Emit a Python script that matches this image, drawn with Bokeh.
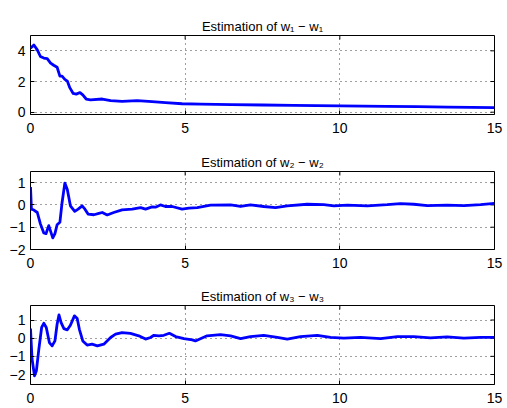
import math
from bokeh.plotting import figure
from bokeh.layouts import column
from bokeh.models import FixedTicker, Range1d, Title, LinearAxis
from bokeh.embed import file_html
from bokeh.resources import INLINE

FONT = "Liberation Sans"

# ---- data ----
t1 = [0, 0.11, 0.22, 0.32, 0.43, 0.54, 0.65, 0.75, 0.86, 0.95, 1.02, 1.11, 1.19, 1.27,
      1.38, 1.48, 1.6, 1.69, 1.8, 1.94, 2.32, 2.59, 2.96, 3.45, 3.93, 4.36, 4.9, 5.5,
      6.5, 7.5, 8.5, 10, 11.5, 12.5, 13.5, 15]
e1 = [4.17, 4.38, 4.06, 3.63, 3.53, 3.49, 3.2, 3.06, 2.93, 2.35, 2.35, 2.14, 2.03, 1.6,
      1.22, 1.18, 1.28, 1.13, 0.86, 0.81, 0.86, 0.75, 0.7, 0.75, 0.69, 0.62, 0.55, 0.53,
      0.5, 0.47, 0.44, 0.41, 0.38, 0.36, 0.33, 0.3]

t2 = [0, 0.03, 0.11, 0.22, 0.32, 0.43, 0.5, 0.59, 0.72, 0.79, 0.86, 0.95, 1.02, 1.11,
      1.19, 1.29, 1.43, 1.54, 1.67, 1.76, 1.86, 2.05, 2.21, 2.32, 2.48, 2.69, 2.96, 3.29,
      3.56, 3.72, 3.93, 4.04, 4.2, 4.36, 4.58, 4.9, 5.12, 5.39, 5.82, 6.47, 6.79, 7.11,
      7.54, 7.92, 8.3, 8.94, 9.48, 9.81, 10.24, 10.89, 11.53, 11.96, 12.39, 12.83, 13.47,
      14.01, 14.55, 15]
e2 = [0.8, -0.19, -0.23, -0.34, -0.85, -1.26, -1.29, -0.93, -1.48, -1.29, -0.89, -0.78,
      0.1, 0.98, 0.69, -0.04, -0.29, -0.19, -0.04, -0.19, -0.41, -0.44, -0.38, -0.34,
      -0.45, -0.34, -0.22, -0.19, -0.12, -0.19, -0.09, -0.1, 0.0, -0.07, -0.07, -0.19,
      -0.14, -0.12, -0.01, 0.0, -0.07, 0.0, -0.07, -0.12, -0.04, 0.03, 0.01, -0.04,
      -0.01, -0.04, 0.01, 0.06, 0.03, -0.03, -0.01, -0.03, 0.01, 0.07]

t3 = [0, 0.05, 0.13, 0.19, 0.27, 0.36, 0.43, 0.51, 0.61, 0.7, 0.79, 0.86, 0.92, 0.99,
      1.08, 1.19, 1.29, 1.42, 1.51, 1.58, 1.69, 1.83, 1.99, 2.16, 2.37, 2.59, 2.75, 2.96,
      3.23, 3.5, 3.72, 3.88, 3.99, 4.15, 4.31, 4.49, 4.69, 4.96, 5.23, 5.33, 5.71, 6.14,
      6.47, 6.79, 7.11, 7.54, 7.98, 8.3, 8.73, 9.27, 9.7, 10.13, 10.67, 11.32, 11.86,
      12.39, 12.93, 13.47, 14.01, 14.55, 15]
e3 = [0.53, -1.15, -2.07, -1.8, -0.6, 0.59, 0.82, 0.59, -0.24, -0.42, -0.15, 0.77, 1.28,
      0.86, 0.53, 0.46, 0.71, 1.23, 1.08, 0.49, -0.15, -0.38, -0.33, -0.42, -0.33, 0.04,
      0.22, 0.31, 0.26, 0.13, -0.05, 0.04, 0.16, 0.13, 0.16, 0.27, 0.09, -0.02, -0.09,
      -0.15, 0.13, 0.2, 0.13, -0.02, 0.09, 0.15, 0.04, -0.05, 0.09, 0.16, 0.04, 0.0,
      0.04, -0.02, 0.09, 0.09, 0.02, 0.07, 0.0, 0.04, 0.05]

titles = ["Estimation of w\u2081 \u2212 w\u2081",
          "Estimation of w\u2082 \u2212 w\u2082",
          "Estimation of w\u2083 \u2212 w\u2083"]
x_lims = (0, 15)
x_ticks = [0, 5, 10, 15]
y_ticks1 = [0, 2, 4]
y_ticks2 = [-2, -1, 0, 1]
y_ticks3 = [-2, -1, 0, 1]
y_lims1 = (-0.15, 5)
y_lims2 = (-2, 1.5)
y_lims3 = (-2.55, 1.8)


def make(title, t, e, ylims, yticks, frame_h, top):
    p = figure(frame_width=464, frame_height=frame_h, title=None,
               x_range=Range1d(*x_lims), y_range=Range1d(*ylims),
               output_backend="svg", toolbar_location=None,
               min_border_left=30, min_border_right=9,
               min_border_top=top, min_border_bottom=23)

    p.outline_line_color = "black"
    p.outline_line_width = 1
    p.outline_line_alpha = 1
    p.background_fill_color = "white"
    p.border_fill_color = "white"

    p.xaxis.ticker = FixedTicker(ticks=x_ticks)
    p.yaxis.ticker = FixedTicker(ticks=yticks)
    for ax in (p.xaxis[0], p.yaxis[0]):
        ax.axis_line_color = None
        ax.major_tick_in = 4
        ax.major_tick_out = 0
        ax.minor_tick_line_color = None
        ax.major_tick_line_color = "black"
        ax.major_label_text_font = FONT
        ax.major_label_text_font_size = "14px"
        ax.major_label_text_color = "black"
    p.xaxis.major_label_standoff = 8
    p.yaxis.major_label_standoff = 5

    for g, tk in ((p.xgrid[0], x_ticks), (p.ygrid[0], yticks)):
        g.grid_line_color = "black"
        g.grid_line_alpha = 0.75
        g.grid_line_dash = "1 4"
        g.grid_line_width = 1
        g.ticker = FixedTicker(ticks=tk)

    # title, then an invisible spacer axis between it and the box
    p.add_layout(Title(text=title, align="center", text_font=FONT,
                       text_font_size="13px", text_font_style="normal",
                       text_color="black", standoff=4), "above")
    spacer = LinearAxis(ticker=FixedTicker(ticks=x_ticks), axis_line_color=None,
                        major_tick_in=0, major_tick_out=12,
                        major_tick_line_color=None, minor_tick_line_color=None,
                        minor_tick_in=0, minor_tick_out=0,
                        major_label_standoff=0, major_label_text_font_size="1px",
                        major_label_text_color=None)
    p.add_layout(spacer, "above")

    # inward ticks on the right and top edges of the box
    p.ray(x=[x_lims[1]] * len(yticks), y=yticks, length=4, length_units="screen",
          angle=math.pi, line_color="black", line_width=1)
    p.ray(x=x_ticks, y=[ylims[1]] * len(x_ticks), length=4, length_units="screen",
          angle=-math.pi / 2, line_color="black", line_width=1)

    p.line(t, e, line_color="#0000ff", line_width=2.8, line_join="round")
    return p


p1 = make(titles[0], t1, e1, y_lims1, y_ticks1, 79, 35)
p2 = make(titles[1], t2, e2, y_lims2, y_ticks2, 78, 34)
p3 = make(titles[2], t3, e3, y_lims3, y_ticks3, 79, 33)

layout = column(p1, p2, p3, spacing=0)
open("out.html", "w").write(file_html(layout, INLINE))
